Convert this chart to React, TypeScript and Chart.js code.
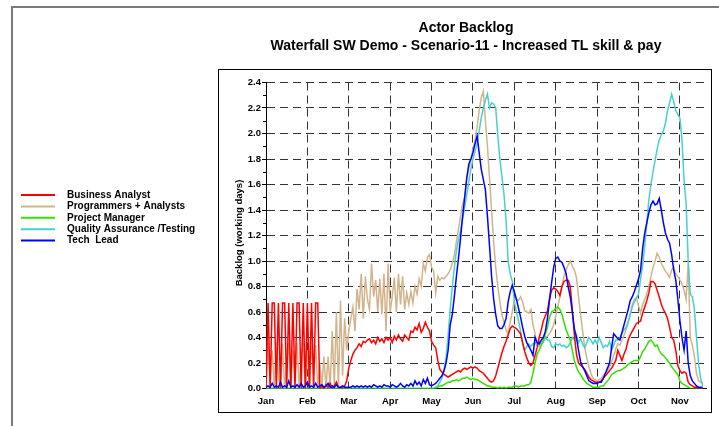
import { useEffect, useRef } from 'react';
import { Chart, registerables } from 'chart.js';

Chart.register(...registerables);

// ---- data ----
const STEP_MONTHS = 0.05; // sample spacing along the time axis, in months from 1 Jan
const MONTH_LABELS = ['Jan', 'Feb', 'Mar', 'Apr', 'May', 'Jun', 'Jul', 'Aug', 'Sep', 'Oct', 'Nov'];
const MONTH_TICKS = [0, 1, 2, 3, 4, 5, 6, 7, 8, 9, 10];
const Y_TICKS = [0, 0.2, 0.4, 0.6, 0.8, 1.0, 1.2, 1.4, 1.6, 1.8, 2.0, 2.2, 2.4];
const Y_MINOR_TICKS = [0.1, 0.3, 0.5, 0.7, 0.9, 1.1, 1.3, 1.5, 1.7, 1.9, 2.1, 2.3];
const TITLE = 'Actor Backlog';
const SUBTITLE = 'Waterfall SW Demo - Scenario-11 - Increased TL skill & pay';
const Y_TITLE = 'Backlog (working days)';
const SERIES_NAMES = ['Business Analyst', 'Programmers + Analysts', 'Project Manager', 'Quality Assurance /Testing', 'Tech  Lead'];

const businessAnalyst = [
  0, 0.67, 0, 0.67, 0.67, 0, 0.67, 0, 0.67, 0.67,
  0, 0.67, 0, 0.67, 0, 0.67, 0.67, 0, 0.67, 0,
  0.67, 0, 0.67, 0, 0.67, 0.67, 0, 0.02, 0, 0.03,
  0.01, 0.04, 0, 0.02, 0.05, 0.01, 0, 0.01, 0.02, 0.06,
  0.16, 0.22, 0.27, 0.3, 0.32, 0.35, 0.33, 0.37, 0.36, 0.38,
  0.39, 0.36, 0.38, 0.35, 0.4, 0.37, 0.39, 0.36, 0.4, 0.38,
  0.4, 0.36, 0.41, 0.38, 0.42, 0.39, 0.37, 0.42, 0.4, 0.38,
  0.45, 0.44, 0.48, 0.46, 0.51, 0.44, 0.47, 0.52, 0.48, 0.45,
  0.37, 0.34, 0.32, 0.22, 0.15, 0.13, 0.11, 0.1, 0.09, 0.1,
  0.11, 0.12, 0.13, 0.14, 0.13, 0.15, 0.16, 0.15, 0.16, 0.17,
  0.16, 0.17, 0.16, 0.14, 0.13, 0.12, 0.1, 0.08, 0.06, 0.05,
  0.06, 0.1, 0.16, 0.22, 0.28, 0.33, 0.37, 0.42, 0.47, 0.49,
  0.48, 0.47, 0.45, 0.43, 0.36, 0.29, 0.24, 0.2, 0.18, 0.2,
  0.26, 0.32, 0.4, 0.46, 0.53, 0.57, 0.61, 0.7, 0.77, 0.79,
  0.78, 0.76, 0.73, 0.8, 0.84, 0.85, 0.85, 0.8, 0.62, 0.42,
  0.27, 0.2, 0.18, 0.17, 0.15, 0.12, 0.09, 0.07, 0.06, 0.05,
  0.05, 0.05, 0.06, 0.08, 0.1, 0.12, 0.14, 0.16, 0.19, 0.22,
  0.3, 0.26, 0.22, 0.27, 0.31, 0.38, 0.42, 0.45, 0.48, 0.51,
  0.52, 0.53, 0.59, 0.64, 0.69, 0.75, 0.84, 0.84, 0.82, 0.77,
  0.72, 0.66, 0.62, 0.59, 0.55, 0.48, 0.4, 0.38, 0.3, 0.18,
  0.14, 0.12, 0.13, 0.12, 0.05, 0.03, 0.02, 0.01, 0.01, 0,
  0, 0,
];

const programmersAnalysts = [
  0, 0.36, 0.05, 0.3, 0, 0.36, 0.1, 0, 0.35, 0,
  0.2, 0.36, 0, 0.3, 0.05, 0.36, 0, 0.25, 0.36, 0,
  0.3, 0, 0.36, 0.1, 0.34, 0, 0.2, 0.02, 0.25, 0,
  0.25, 0, 0.45, 0.02, 0.6, 0, 0.69, 0.1, 0.55, 0.3,
  0.45, 0.55, 0.64, 0.45, 0.78, 0.62, 0.9, 0.55, 0.88, 0.7,
  0.62, 0.98, 0.72, 0.85, 0.6, 0.86, 0.58, 0.9, 0.45, 0.98,
  0.6, 0.72, 0.87, 0.6, 0.9, 0.66, 0.88, 0.62, 0.75, 0.66,
  0.76, 0.67, 0.8, 0.74, 0.86, 0.8, 0.98, 0.92, 1.03, 1.05,
  0.95, 0.92, 0.75, 0.88, 0.85, 0.87, 0.86, 0.88, 0.9, 0.93,
  0.98, 1.05, 1.15, 1.25, 1.35, 1.45, 1.5, 1.65, 1.72, 1.8,
  1.88, 1.95, 2.05, 2.18, 2.28, 2.33, 2.1, 1.9, 1.65, 1.4,
  1.15, 0.95, 0.8, 0.68, 0.58, 0.52, 0.46, 0.43, 0.52, 0.6,
  0.7, 0.7, 0.69, 0.72, 0.68, 0.61, 0.6, 0.59, 0.62, 0.5,
  0.43, 0.34, 0.33, 0.38, 0.39, 0.4, 0.41, 0.43, 0.46, 0.5,
  0.57, 0.64, 0.72, 0.8, 0.88, 0.93, 0.97, 1.0, 0.96, 0.93,
  0.87, 0.72, 0.58, 0.45, 0.32, 0.24, 0.17, 0.12, 0.08, 0.07,
  0.06, 0.07, 0.08, 0.1, 0.12, 0.14, 0.17, 0.21, 0.26, 0.31,
  0.35, 0.34, 0.38, 0.42, 0.46, 0.52, 0.59, 0.66, 0.7, 0.71,
  0.65, 0.59, 0.66, 0.7, 0.74, 0.8, 0.88, 0.95, 1.0, 1.06,
  1.03, 0.98, 0.95, 0.92, 0.9, 0.87, 0.93, 0.95, 0.9, 0.88,
  0.85, 0.82, 0.77, 0.7, 0.98, 0.4, 0.34, 0.25, 0.12, 0.06,
  0.05, 0.04,
];

const projectManager = [
  0, 0, 0, 0, 0, 0, 0, 0, 0, 0,
  0, 0, 0, 0, 0, 0, 0, 0, 0, 0,
  0, 0, 0, 0, 0, 0, 0, 0, 0, 0,
  0, 0, 0, 0, 0, 0, 0, 0, 0, 0,
  0, 0, 0, 0, 0, 0, 0, 0, 0, 0,
  0, 0, 0, 0, 0, 0, 0, 0, 0, 0,
  0, 0, 0, 0, 0, 0, 0, 0, 0, 0,
  0, 0, 0, 0, 0, 0, 0, 0, 0, 0,
  0, 0, 0, 0.01, 0.02, 0.02, 0.03, 0.04, 0.05, 0.05,
  0.06, 0.06, 0.07, 0.06, 0.07, 0.08, 0.08, 0.09, 0.08, 0.07,
  0.08, 0.07, 0.07, 0.06, 0.05, 0.04, 0.03, 0.02, 0.02, 0.01,
  0.01, 0.01, 0, 0.01, 0, 0.01, 0, 0.01, 0.01, 0.01,
  0.02, 0.02, 0.01, 0.02, 0.02, 0.02, 0.03, 0.03, 0.05, 0.12,
  0.2, 0.27, 0.3, 0.34, 0.38, 0.43, 0.48, 0.56, 0.6, 0.61,
  0.63, 0.64, 0.62, 0.58, 0.52, 0.46, 0.42, 0.38, 0.3, 0.22,
  0.17, 0.13, 0.11, 0.08, 0.06, 0.04, 0.03, 0.02, 0.01, 0.01,
  0.01, 0.01, 0.02, 0.02, 0.04, 0.06, 0.08, 0.11, 0.12, 0.13,
  0.14, 0.14, 0.15, 0.16, 0.17, 0.19, 0.2, 0.21, 0.22, 0.22,
  0.22, 0.25, 0.29, 0.31, 0.34, 0.37, 0.38, 0.36, 0.33, 0.34,
  0.3, 0.27, 0.26, 0.24, 0.22, 0.2, 0.17, 0.15, 0.13, 0.11,
  0.06, 0.04, 0.03, 0.02, 0.01, 0, 0, 0, 0, 0,
  0, 0,
];

const qualityAssurance = [
  0, 0, 0, 0, 0, 0, 0, 0, 0, 0,
  0, 0, 0, 0, 0, 0, 0, 0, 0, 0,
  0, 0, 0, 0, 0, 0, 0, 0, 0, 0,
  0, 0, 0, 0, 0, 0, 0, 0, 0, 0,
  0, 0, 0, 0, 0, 0, 0, 0, 0, 0,
  0, 0, 0, 0, 0, 0, 0, 0, 0, 0,
  0, 0, 0, 0, 0, 0, 0, 0, 0, 0,
  0, 0, 0, 0, 0, 0, 0, 0, 0, 0,
  0, 0, 0.01, 0.02, 0.05, 0.08, 0.14, 0.24, 0.42, 0.62,
  0.8, 0.95, 1.08, 1.17, 1.24, 1.33, 1.42, 1.52, 1.62, 1.72,
  1.8, 1.86, 1.92, 2.02, 2.12, 2.2, 2.26, 2.31, 2.2, 2.24,
  2.23, 2.2, 1.98, 1.8, 1.66, 1.52, 1.32, 1.0, 0.9, 0.84,
  0.68, 0.6, 0.53, 0.45, 0.35, 0.3, 0.33, 0.35, 0.33, 0.35,
  0.36, 0.34, 0.37, 0.35, 0.36, 0.4, 0.38, 0.38, 0.33, 0.32,
  0.35, 0.34, 0.35, 0.33, 0.34, 0.32, 0.33, 0.36, 0.4, 0.38,
  0.42, 0.36, 0.39, 0.35, 0.32, 0.36, 0.4, 0.38, 0.35, 0.38,
  0.35, 0.4, 0.36, 0.32, 0.34, 0.33, 0.37, 0.3, 0.34, 0.38,
  0.38, 0.4, 0.43, 0.46, 0.48, 0.52, 0.58, 0.64, 0.68, 0.71,
  0.74, 0.86, 0.97, 1.12, 1.3, 1.48, 1.6, 1.7, 1.79, 1.88,
  1.95, 1.99, 2.02, 2.08, 2.18, 2.24, 2.31, 2.25, 2.18, 2.15,
  2.12, 1.95, 1.63, 1.45, 1.0, 0.74, 0.72, 0.62, 0.4, 0.2,
  0.08, 0.02,
];

const techLead = [
  0.01, 0.02, 0.01, 0.04, 0.01, 0.02, 0.01, 0.05, 0.01, 0.02,
  0.01, 0.06, 0.01, 0.02, 0.01, 0.03, 0.01, 0.04, 0.01, 0.02,
  0.05, 0.01, 0.02, 0.01, 0.04, 0.01, 0.02, 0.03, 0.01, 0.02,
  0.04, 0.01, 0.02, 0.01, 0.03, 0.01, 0.01, 0.02, 0.01, 0.01,
  0.01, 0.01, 0.02, 0.01, 0.02, 0.01, 0.02, 0.01, 0.02, 0.01,
  0.02, 0.01, 0.03, 0.02, 0.01, 0.02, 0.01, 0.03, 0.02, 0.02,
  0.01, 0.03, 0.02, 0.01, 0.02, 0.04, 0.02, 0.01, 0.03, 0.02,
  0.04, 0.02, 0.06, 0.03, 0.05, 0.02, 0.07, 0.04, 0.08, 0.03,
  0.02, 0.03, 0.04, 0.06, 0.08, 0.1, 0.14, 0.2, 0.3, 0.5,
  0.58, 0.72, 0.88, 1.02, 1.18, 1.35, 1.5, 1.65, 1.76, 1.8,
  1.85, 1.92, 1.98, 1.85, 1.72, 1.64, 1.56, 1.35, 1.12, 0.88,
  0.7, 0.58, 0.49, 0.47, 0.47, 0.5, 0.55, 0.68, 0.76, 0.81,
  0.76, 0.7, 0.63, 0.56, 0.48, 0.41, 0.36, 0.33, 0.3, 0.26,
  0.4, 0.36, 0.35, 0.38, 0.4, 0.45, 0.55, 0.7, 0.83, 0.95,
  1.02, 1.03, 1.0, 0.99, 0.95, 0.9, 0.8, 0.72, 0.6, 0.47,
  0.4, 0.3, 0.21, 0.17, 0.14, 0.1, 0.06, 0.05, 0.04, 0.04,
  0.04, 0.05, 0.05, 0.08, 0.12, 0.16, 0.2, 0.32, 0.43, 0.41,
  0.39, 0.38, 0.44, 0.5, 0.56, 0.62, 0.69, 0.72, 0.76, 0.81,
  0.86, 0.93, 1.1, 1.22, 1.3, 1.38, 1.44, 1.47, 1.44, 1.45,
  1.49, 1.4, 1.3, 1.22, 1.17, 1.14, 1.05, 0.93, 0.85, 0.7,
  0.53, 0.4, 0.3, 0.45, 0.2, 0.1, 0.06, 0.04, 0.02, 0.01,
  0.01, 0.01,
];

const SERIES_VALUES = [businessAnalyst, programmersAnalysts, projectManager, qualityAssurance, techLead];
const SERIES_COLORS = ['#ff0000', '#d2b48c', '#33e000', '#48d1cc', '#0000ff'];
const SERIES_DRAW_ORDER = [1, 4, 2, 3, 0];

const FONT = '"Liberation Sans", Arial, sans-serif';

const decorPlugin = {
  id: 'decor',
  afterDraw(chart: any) {
    const ctx: CanvasRenderingContext2D = chart.ctx;
    const area = chart.chartArea;
    const yScale = chart.scales.y;
    ctx.save();

    // outer frame (partial, cropped)
    ctx.strokeStyle = '#7a7a7a';
    ctx.lineWidth = 2;
    ctx.beginPath();
    ctx.moveTo(12, 426);
    ctx.lineTo(12, 7);
    ctx.lineTo(719, 7);
    ctx.stroke();

    // plot box
    ctx.strokeStyle = '#000';
    ctx.lineWidth = 1;
    ctx.strokeRect(218.5, 69.5, 493, 343);

    // minor ticks on the y axis
    ctx.beginPath();
    for (const v of Y_MINOR_TICKS) {
      const y = Math.round(yScale.getPixelForValue(v)) + 0.5;
      ctx.moveTo(area.left - 3, y);
      ctx.lineTo(area.left, y);
    }
    ctx.stroke();

    // titles
    ctx.fillStyle = '#000';
    ctx.textAlign = 'center';
    ctx.textBaseline = 'middle';
    ctx.font = 'bold 14px ' + FONT;
    ctx.fillText(TITLE, 466, 28);
    ctx.fillText(SUBTITLE, 466, 46);

    // y title
    ctx.save();
    ctx.translate(239, 233);
    ctx.rotate(-Math.PI / 2);
    ctx.font = 'bold 9.5px ' + FONT;
    ctx.fillText(Y_TITLE, 0, 0);
    ctx.restore();

    // legend
    ctx.textAlign = 'left';
    ctx.font = 'bold 10px ' + FONT;
    chart.data.datasets.forEach((ds: any, i: number) => {
      const y = 195 + i * 11.4;
      ctx.strokeStyle = ds.borderColor;
      ctx.lineWidth = 2;
      ctx.beginPath();
      ctx.moveTo(21, y);
      ctx.lineTo(55, y);
      ctx.stroke();
      ctx.fillStyle = '#000';
      ctx.fillText(ds.label, 67, y);
    });

    ctx.restore();
  },
};

export default function App() {
  const canvasRef = useRef<HTMLCanvasElement | null>(null);

  useEffect(() => {
    document.body.style.margin = '0';
    const canvas = canvasRef.current;
    if (!canvas) return;
    const datasets = SERIES_NAMES.map((name, s) => ({
      label: name,
      data: SERIES_VALUES[s].map((v, i) => ({ x: i * STEP_MONTHS, y: v })),
      borderColor: SERIES_COLORS[s],
      backgroundColor: SERIES_COLORS[s],
      borderWidth: 1.5,
      pointRadius: 0,
      tension: 0,
      fill: false,
      order: SERIES_DRAW_ORDER[s],
    }));

    const chart = new Chart(canvas, {
      type: 'line',
      data: { datasets },
      options: {
        animation: false,
        responsive: false,
        devicePixelRatio: 1,
        layout: { padding: { left: 0, top: 82.5, right: 13, bottom: 0 } },
        plugins: {
          legend: { display: false },
          title: { display: false },
          tooltip: { enabled: false },
        },
        scales: {
          x: {
            type: 'linear',
            min: 0,
            max: 10.63,
            afterFit: (s: any) => {
              s.height = 37.5;
            },
            afterBuildTicks: (s: any) => {
              s.ticks = MONTH_TICKS.map((value) => ({ value }));
            },
            ticks: {
              autoSkip: false,
              maxRotation: 0,
              padding: 7,
              color: '#000',
              font: { family: FONT, size: 9.5, weight: 'bold' },
              callback: (v: any) => MONTH_LABELS[Math.round(Number(v))] ?? '',
            },
            grid: { color: '#333', lineWidth: 1, drawTicks: false },
            border: { display: true, color: '#000', width: 1, dash: [8, 5] },
          },
          y: {
            type: 'linear',
            min: 0,
            max: 2.4,
            afterFit: (s: any) => {
              s.width = 266;
            },
            afterBuildTicks: (s: any) => {
              s.ticks = Y_TICKS.map((value) => ({ value }));
            },
            ticks: {
              padding: 1,
              color: '#000',
              font: { family: FONT, size: 9.5, weight: 'bold' },
              callback: (v: any) => Number(v).toFixed(1),
            },
            grid: { color: '#333', lineWidth: 1, drawTicks: true, tickLength: 4, tickColor: '#000' },
            border: { display: true, color: '#000', width: 1, dash: [8, 5] },
          },
        },
      },
      plugins: [decorPlugin],
    } as any);

    return () => chart.destroy();
  }, []);

  return (
    <div style={{ position: 'relative', width: 719, height: 426, background: '#fff' }}>
      <canvas ref={canvasRef} width={719} height={426} style={{ display: 'block', width: 719, height: 426 }} />
    </div>
  );
}
